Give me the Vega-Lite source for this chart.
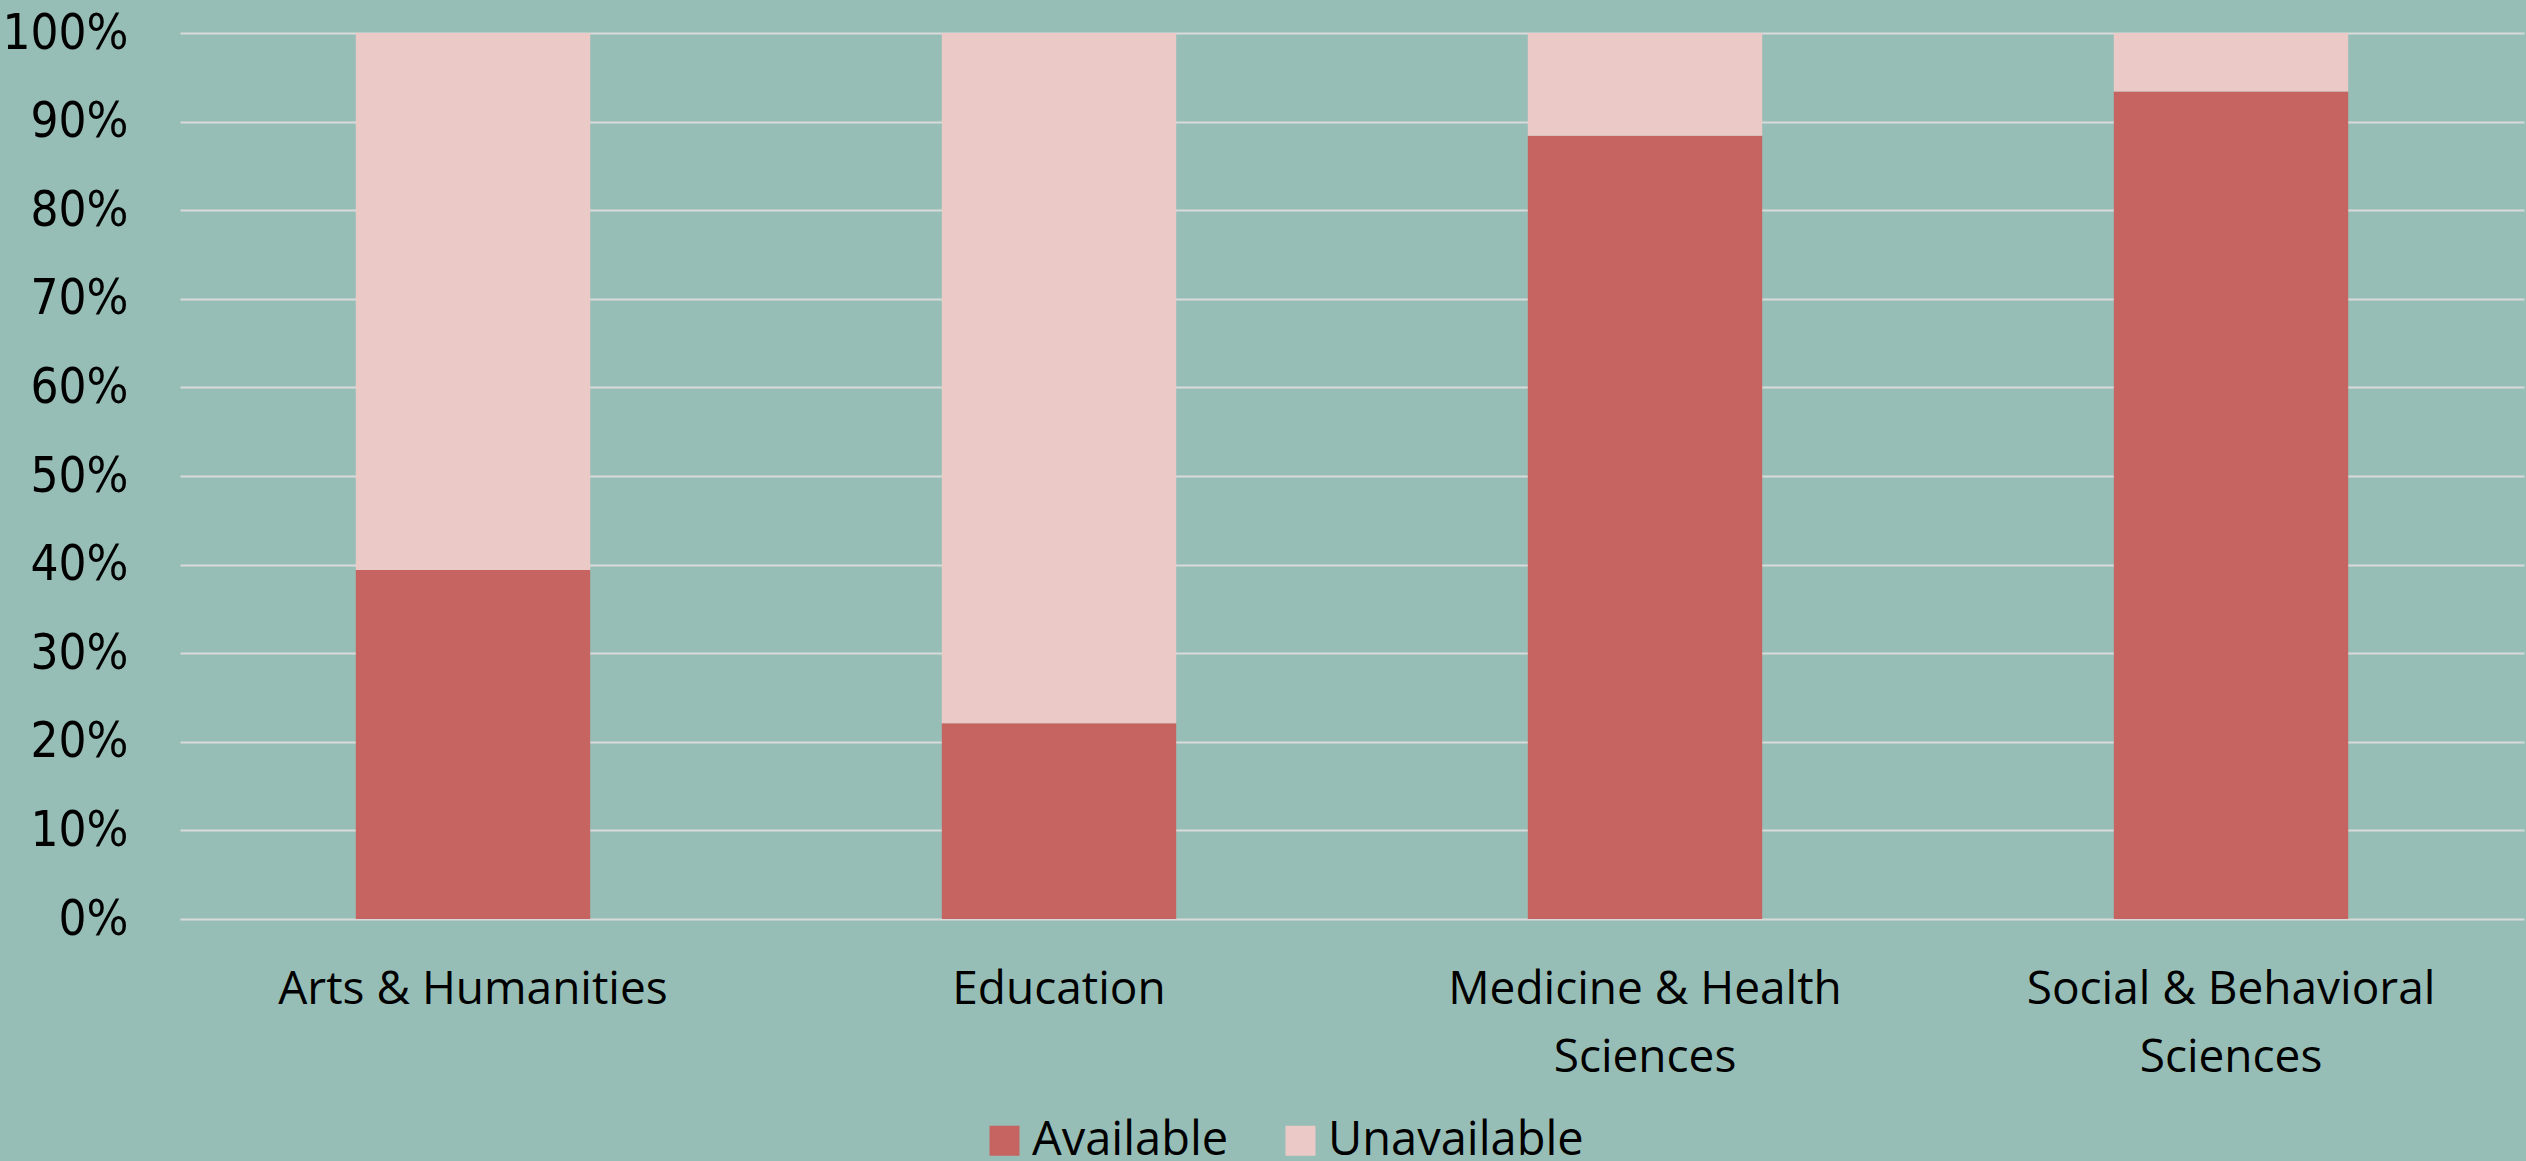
{
  "$schema": "https://vega.github.io/schema/vega-lite/v6.json",
  "autosize": {"type": "none"},
  "width": 2344,
  "height": 886,
  "padding": {"left": 180, "top": 33, "right": 2, "bottom": 242},
  "background": "#97BEB6",
  "config": {
    "view": {"stroke": null},
    "axis": {"domain": false, "ticks": false, "labelColor": "#000000", "titleColor": "#000000"}
  },
  "data": {
    "values": [
      {"category": "Arts & Humanities", "status": "Available", "share": 0.394, "ord": 1},
      {"category": "Arts & Humanities", "status": "Unavailable", "share": 0.606, "ord": 2},
      {"category": "Education", "status": "Available", "share": 0.221, "ord": 1},
      {"category": "Education", "status": "Unavailable", "share": 0.779, "ord": 2},
      {"category": "Medicine & Health Sciences", "status": "Available", "share": 0.884, "ord": 1},
      {"category": "Medicine & Health Sciences", "status": "Unavailable", "share": 0.116, "ord": 2},
      {"category": "Social & Behavioral Sciences", "status": "Available", "share": 0.934, "ord": 1},
      {"category": "Social & Behavioral Sciences", "status": "Unavailable", "share": 0.066, "ord": 2}
    ]
  },
  "mark": {"type": "bar"},
  "encoding": {
    "x": {
      "field": "category",
      "type": "nominal",
      "sort": null,
      "scale": {"paddingInner": 0.6, "paddingOuter": 0.3},
      "axis": {
        "title": null,
        "labelAngle": 0,
        "labelFont": "Open Sans",
        "labelFontSize": 46,
        "labelPadding": 48,
        "labelLineHeight": 68,
        "labelLimit": 0,
        "grid": false,
        "labelExpr": "datum.value == 'Medicine & Health Sciences' ? ['Medicine & Health', 'Sciences'] : datum.value == 'Social & Behavioral Sciences' ? ['Social & Behavioral', 'Sciences'] : datum.value"
      }
    },
    "y": {
      "field": "share",
      "type": "quantitative",
      "stack": "zero",
      "scale": {"domain": [0, 1], "nice": false},
      "axis": {
        "title": null,
        "values": [0, 0.1, 0.2, 0.3, 0.4, 0.5, 0.6, 0.7, 0.8, 0.9, 1],
        "format": ".0%",
        "labelFont": "DejaVu Sans Condensed",
        "labelFontSize": 49,
        "labelPadding": 52,
        "grid": true,
        "gridColor": "#D9D9D9",
        "gridWidth": 2
      }
    },
    "color": {
      "field": "status",
      "type": "nominal",
      "scale": {"domain": ["Available", "Unavailable"], "range": ["#C66461", "#EBC9C6"]},
      "legend": {
        "title": null,
        "orient": "none",
        "direction": "horizontal",
        "legendX": 801,
        "legendY": 1084,
        "padding": 0,
        "symbolType": "square",
        "symbolSize": 900,
        "symbolStrokeWidth": 0,
        "symbolOpacity": 1,
        "labelFont": "Open Sans",
        "labelFontSize": 47,
        "labelColor": "#000000",
        "labelOffset": 4,
        "columnPadding": 48,
        "labelLimit": 0
      }
    },
    "order": {"field": "ord", "type": "quantitative"}
  }
}
